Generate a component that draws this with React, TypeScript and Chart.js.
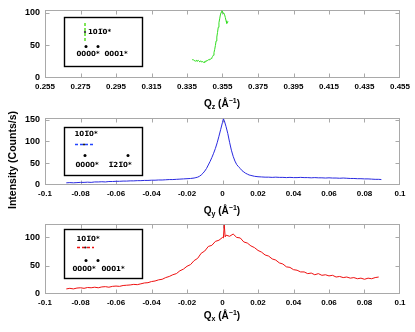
import React, { useEffect, useRef } from "react";
import { Chart, registerables } from "chart.js";

Chart.register(...registerables);

// ---------- DATA ----------
const qzValues = [
  0.3378, 0.3382, 0.3386, 0.339, 0.3394, 0.3398, 0.3402, 0.3406, 0.341, 0.3414,
  0.3418, 0.3422, 0.3426, 0.343, 0.3434, 0.3438, 0.3442, 0.3446, 0.345, 0.3454,
  0.3458, 0.3462, 0.3466, 0.347, 0.3474, 0.3478, 0.3482, 0.3486, 0.349, 0.3494,
  0.3498, 0.3502, 0.3506, 0.351, 0.3514, 0.3518, 0.3522, 0.3526, 0.353, 0.3534,
  0.3538, 0.3542, 0.3546, 0.355, 0.3554, 0.3558, 0.3562, 0.3566, 0.357, 0.3574,
  0.3578, 0.3581,
];
const qzIntensity = [
  29, 28, 28, 27, 27, 26, 27, 26, 26, 27,
  26, 25, 26, 25, 26, 25, 24, 25, 24, 26,
  26, 27, 27, 28, 28, 29, 29, 30, 31, 33,
  35, 39, 44, 50, 57, 63, 70, 78, 85, 91,
  97, 101, 104, 102, 100, 99, 97, 93, 88, 84,
  85, 87,
];

const qyValues = [
  -0.088, -0.086, -0.084, -0.082, -0.08, -0.078, -0.076, -0.074, -0.072, -0.07,
  -0.068, -0.066, -0.064, -0.062, -0.06, -0.058, -0.056, -0.054, -0.052, -0.05,
  -0.048, -0.046, -0.044, -0.042, -0.04, -0.038, -0.036, -0.034, -0.032, -0.03,
  -0.028, -0.026, -0.024, -0.022, -0.02, -0.018, -0.016,
  -0.015, -0.014, -0.013, -0.012, -0.011, -0.01, -0.009, -0.008, -0.007, -0.006,
  -0.005, -0.004, -0.003, -0.002, -0.001,
  0, 0.0005,
  0.001, 0.002, 0.003, 0.004, 0.005, 0.006, 0.007, 0.008, 0.009, 0.01,
  0.011, 0.012, 0.013, 0.014, 0.015, 0.016,
  0.018, 0.02, 0.022, 0.024, 0.026, 0.028, 0.03, 0.032, 0.034, 0.036,
  0.038, 0.04, 0.042, 0.044, 0.046, 0.048, 0.05, 0.052, 0.054, 0.056,
  0.058, 0.06, 0.062, 0.064, 0.066, 0.068, 0.07, 0.072, 0.074, 0.076,
  0.078, 0.08, 0.082, 0.084, 0.086, 0.088, 0.0895,
];
const qyIntensity = [
  5, 5.5, 5, 5.5, 6, 6, 6.5, 6, 7, 7,
  7.5, 7, 8, 8, 8.5, 8.5, 9, 9, 9.5, 9.5,
  10, 10, 10.5, 10.5, 11, 11, 11.5, 11.5, 12, 12.5,
  12.5, 13, 13.5, 14, 14.5, 15, 16,
  17, 18, 20, 23, 27, 32, 38, 46, 54, 63,
  73, 84, 97, 112, 128,
  144, 152,
  148, 134, 118, 98, 80, 66, 55, 47, 42, 38,
  33, 30, 27, 25, 23, 22,
  20, 19, 18.5, 18, 18, 17.5, 18, 17.5, 17.5, 17,
  17.5, 17, 17, 17.5, 17, 17, 16.5, 17, 16.5, 16.5,
  16, 16.5, 16, 16, 15.5, 16, 15.5, 15, 15, 14.5,
  14.5, 14, 14, 13.5, 13, 13, 12.5,
];

const qxValues = [
  -0.088, -0.086, -0.084, -0.082, -0.08, -0.078, -0.076, -0.074, -0.072, -0.07,
  -0.068, -0.066, -0.064, -0.062, -0.06, -0.058, -0.056, -0.054, -0.052, -0.05,
  -0.048, -0.046, -0.044, -0.042, -0.04, -0.038, -0.036, -0.034, -0.032, -0.03,
  -0.028, -0.026, -0.024, -0.022, -0.02, -0.018, -0.016, -0.014, -0.012, -0.01,
  -0.008, -0.006, -0.004, -0.002,
  0, 0.0005, 0.001, 0.0015,
  0.002, 0.004, 0.006, 0.008, 0.01, 0.012, 0.014, 0.016, 0.018, 0.02,
  0.022, 0.024, 0.026, 0.028, 0.03, 0.032, 0.034, 0.036, 0.038, 0.04,
  0.042, 0.044, 0.046, 0.048, 0.05, 0.052, 0.054, 0.056, 0.058, 0.06,
  0.062, 0.064, 0.066, 0.068, 0.07, 0.072, 0.074, 0.076, 0.078, 0.08,
  0.082, 0.084, 0.086, 0.088,
];
const qxIntensity = [
  9, 10, 9, 10.5, 11, 10, 11.5, 11, 12, 11,
  12.5, 13, 12, 13.5, 14, 13.5, 15, 15.5, 16, 17,
  16.5, 18, 19.5, 20, 22, 23, 25, 26, 29, 31,
  34, 36, 41, 44, 49, 52, 59, 63, 72, 76,
  84, 86, 93, 95,
  100, 99, 122, 101,
  104, 102, 106, 100, 99, 92, 90, 85, 82, 77,
  74, 69, 67, 62, 60, 55, 53, 48, 47, 43,
  42, 39, 39, 36, 37, 34, 36, 33, 34, 32,
  33, 30, 31, 29, 30, 28, 29, 27, 28, 26,
  28, 27, 29, 30,
];

// axis ranges / tick steps
const qzRange = [0.255, 0.455];
const qzStep = 0.02;
const qyxRange = [-0.1, 0.1];
const qyxStep = 0.02;
const yStep = 50;
const yMaxZ = 104;
const yMaxY = 153;
const yMaxX = 123;

// legend labels
const legendMain = "10" + "1\u0305" + "0*";
const legendZ = ["0000*", "0001*"];
const legendY = ["0000*", "1\u0305" + "2" + "1\u0305" + "0*"];
const legendX = ["0000*", "0001*"];

const FONT = "'Liberation Sans', Arial, Helvetica, sans-serif";
const LEGEND_FONT = "'DejaVu Sans', 'Liberation Sans', sans-serif";

const framePlugin = {
  id: "frameTicks",
  beforeDatasetsDraw(chart: any) {
    const { ctx, chartArea: a, scales } = chart;
    ctx.save();
    ctx.strokeStyle = "#a9a9a9";
    ctx.lineWidth = 1;
    const l = Math.round(a.left) + 0.5;
    const t = Math.round(a.top) + 0.5;
    const r = Math.round(a.right) - 0.5;
    const b = Math.round(a.bottom) - 0.5;
    ctx.strokeRect(l, t, r - l, b - t);
    const L = 4;
    ctx.beginPath();
    scales.x.ticks.forEach((tk: any) => {
      const px = Math.round(scales.x.getPixelForValue(tk.value)) + 0.5;
      if (px <= l + 1 || px >= r - 1) return;
      ctx.moveTo(px, b);
      ctx.lineTo(px, b - L);
      ctx.moveTo(px, t);
      ctx.lineTo(px, t + L);
    });
    scales.y.ticks.forEach((tk: any) => {
      const py = Math.round(scales.y.getPixelForValue(tk.value)) + 0.5;
      if (py <= t + 1 || py >= b - 1) return;
      ctx.moveTo(l, py);
      ctx.lineTo(l + L, py);
      ctx.moveTo(r, py);
      ctx.lineTo(r - L, py);
    });
    ctx.stroke();
    ctx.restore();
  },
};

type LegendCfg = {
  color: string;
  box: [number, number, number, number];
  title: { text: string; x: number; y: number; align: CanvasTextAlign };
  line: [number, number, number, number];
  lineDot: [number, number];
  dots: [number, number][];
  labels: { text: string; x: number; y: number }[];
};

function makeLegendPlugin(cfg: LegendCfg) {
  return {
    id: "millerLegend",
    afterDraw(chart: any) {
      const ctx: CanvasRenderingContext2D = chart.ctx;
      ctx.save();
      ctx.fillStyle = "#ffffff";
      const [bx, by, bw, bh] = cfg.box;
      ctx.fillRect(bx, by, bw, bh);
      ctx.strokeStyle = "#000000";
      ctx.lineWidth = 1.4;
      ctx.strokeRect(bx, by, bw, bh);
      // dashed line
      ctx.strokeStyle = cfg.color;
      ctx.lineWidth = 1.5;
      ctx.setLineDash([3, 2]);
      ctx.beginPath();
      ctx.moveTo(cfg.line[0], cfg.line[1]);
      ctx.lineTo(cfg.line[2], cfg.line[3]);
      ctx.stroke();
      ctx.setLineDash([]);
      ctx.fillStyle = "#222";
      ctx.beginPath();
      ctx.arc(cfg.lineDot[0], cfg.lineDot[1], 1.1, 0, Math.PI * 2);
      ctx.fill();
      ctx.fillStyle = "#000";
      cfg.dots.forEach(([x, y]) => {
        ctx.beginPath();
        ctx.arc(x, y, 1.5, 0, Math.PI * 2);
        ctx.fill();
      });
      ctx.font = `bold 7px ${LEGEND_FONT}`;
      ctx.textBaseline = "middle";
      ctx.textAlign = cfg.title.align;
      ctx.fillText(cfg.title.text, cfg.title.x, cfg.title.y);
      ctx.textAlign = "center";
      cfg.labels.forEach((lb) => ctx.fillText(lb.text, lb.x, lb.y));
      ctx.restore();
    },
  };
}

function fmtZ(v: number) {
  return v.toFixed(3);
}
function fmtXY(v: number) {
  return String(Number(v.toFixed(2)));
}

function buildChart(
  canvas: HTMLCanvasElement,
  xs: number[],
  ys: number[],
  color: string,
  xRange: number[],
  xStep: number,
  fmt: (v: number) => string,
  yMax: number,
  padTop: number,
  xHeight: number,
  legend: LegendCfg
) {
  return new Chart(canvas, {
    type: "line",
    data: {
      datasets: [
        {
          data: xs.map((x, i) => ({ x, y: ys[i] })),
          borderColor: color,
          borderWidth: 1,
          pointRadius: 0,
          fill: false,
          tension: 0,
        },
      ],
    },
    options: {
      animation: false,
      responsive: false,
      events: [],
      layout: { padding: { left: 0, right: 15, top: padTop, bottom: 0 } },
      plugins: { legend: { display: false }, tooltip: { enabled: false } },
      scales: {
        x: {
          type: "linear",
          min: xRange[0],
          max: xRange[1],
          grid: { display: false, drawTicks: false },
          border: { display: false },
          ticks: {
            stepSize: xStep,
            autoSkip: false,
            maxRotation: 0,
            includeBounds: false,
            padding: 4,
            color: "#000",
            font: { family: FONT, size: 8, weight: "bold" },
            callback: (v: any) => fmt(Number(v)),
          },
          afterFit: (s: any) => {
            s.height = xHeight;
          },
        },
        y: {
          type: "linear",
          min: 0,
          max: yMax,
          grid: { display: false, drawTicks: false },
          border: { display: false },
          ticks: {
            stepSize: yStep,
            includeBounds: false,
            padding: 5,
            color: "#000",
            font: { family: FONT, size: 9, weight: "bold" },
          },
          afterFit: (s: any) => {
            s.width = 45;
          },
        },
      },
    },
    plugins: [framePlugin, makeLegendPlugin(legend)],
  } as any);
}

const titleStyle: React.CSSProperties = {
  position: "absolute",
  transform: "translate(-50%, -50%)",
  font: `bold 10px ${FONT}`,
  whiteSpace: "nowrap",
  color: "#000",
  lineHeight: "12px",
};
const subStyle: React.CSSProperties = { fontSize: "7px", verticalAlign: "-2px", lineHeight: 0 };
const supStyle: React.CSSProperties = { fontSize: "7px", verticalAlign: "4px", lineHeight: 0 };

function AxisTitle({ sub, x, y }: { sub: string; x: number; y: number }) {
  return (
    <div style={{ ...titleStyle, left: x, top: y }}>
      Q<span style={subStyle}>{sub}</span> (Å<span style={supStyle}>−1</span>)
    </div>
  );
}

export default function App() {
  const c1 = useRef<HTMLCanvasElement>(null);
  const c2 = useRef<HTMLCanvasElement>(null);
  const c3 = useRef<HTMLCanvasElement>(null);

  useEffect(() => {
    const ch1 = buildChart(c1.current!, qzValues, qzIntensity, "#33dd22", qzRange, qzStep, fmtZ, yMaxZ, 9, 30, {
      color: "#55dd22",
      box: [64.5, 17.5, 78, 49],
      title: { text: legendMain, x: 88, y: 32, align: "left" },
      line: [85, 23, 85, 41],
      lineDot: [85, 32],
      dots: [[86, 46.5], [98, 46.5]],
      labels: [
        { text: legendZ[0], x: 88, y: 54 },
        { text: legendZ[1], x: 116, y: 54 },
      ],
    });
    const ch2 = buildChart(c2.current!, qyValues, qyIntensity, "#2a2ae0", qyxRange, qyxStep, fmtXY, yMaxY, 10, 29, {
      color: "#2244ff",
      box: [64.5, 19.5, 78, 48],
      title: { text: legendMain, x: 86, y: 26.5, align: "center" },
      line: [75, 36.5, 93, 36.5],
      lineDot: [84, 36.5],
      dots: [[85, 47.5], [128, 47.5]],
      labels: [
        { text: legendY[0], x: 87, y: 57.5 },
        { text: legendY[1], x: 120, y: 57.5 },
      ],
    });
    const ch3 = buildChart(c3.current!, qxValues, qxIntensity, "#ee1111", qyxRange, qyxStep, fmtXY, yMaxX, 8, 38, {
      color: "#ee1111",
      box: [64.5, 15.5, 78, 49],
      title: { text: legendMain, x: 88, y: 25, align: "center" },
      line: [77, 33.5, 94, 33.5],
      lineDot: [85.5, 33.5],
      dots: [[86, 46.5], [98, 46.5]],
      labels: [
        { text: legendX[0], x: 84, y: 55.5 },
        { text: legendX[1], x: 113, y: 55.5 },
      ],
    });
    return () => {
      ch1.destroy();
      ch2.destroy();
      ch3.destroy();
    };
  }, []);

  return (
    <div style={{ position: "absolute", left: 0, top: 0, width: 415, height: 332, background: "#fff", overflow: "hidden" }}>
      <canvas ref={c1} width={415} height={108} style={{ position: "absolute", left: 0, top: 0, width: 415, height: 108 }} />
      <canvas ref={c2} width={415} height={106} style={{ position: "absolute", left: 0, top: 108, width: 415, height: 106 }} />
      <canvas ref={c3} width={415} height={118} style={{ position: "absolute", left: 0, top: 214, width: 415, height: 118 }} />
      <AxisTitle sub="z" x={222} y={104} />
      <AxisTitle sub="y" x={222} y={211} />
      <AxisTitle sub="x" x={222} y={316} />
      <div
        style={{
          position: "absolute",
          left: 12,
          top: 160,
          transform: "translate(-50%, -50%) rotate(-90deg)",
          font: `bold 10.5px ${FONT}`,
          whiteSpace: "nowrap",
          color: "#000",
        }}
      >
        Intensity (Counts/s)
      </div>
    </div>
  );
}
